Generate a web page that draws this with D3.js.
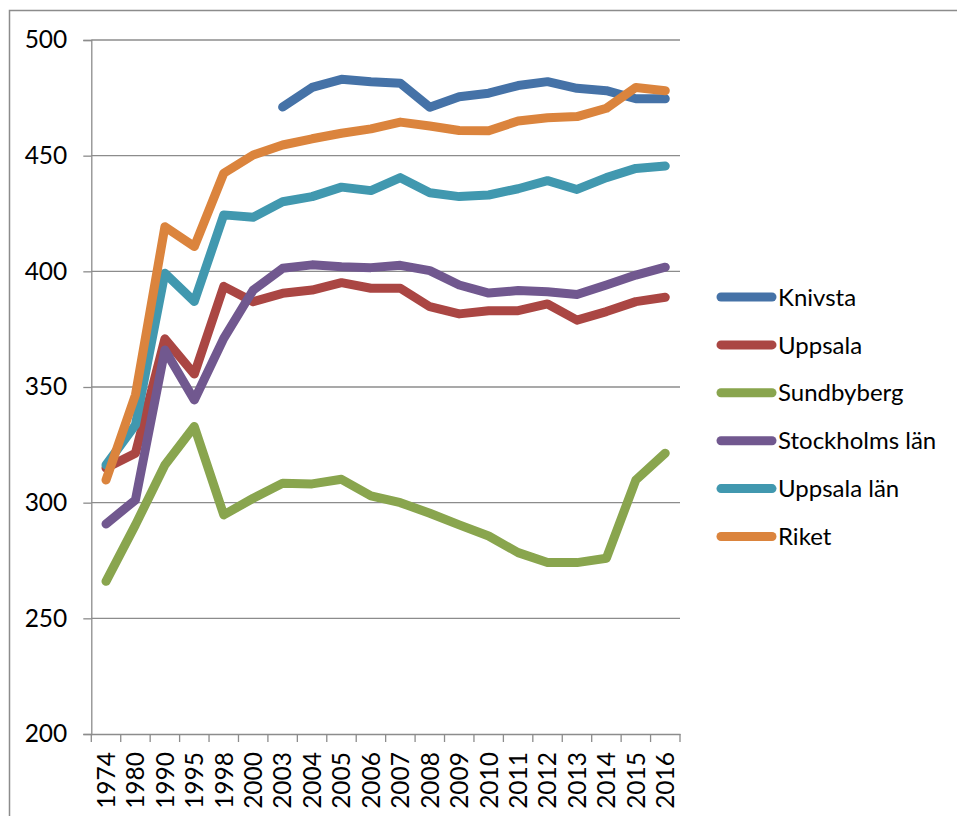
<!DOCTYPE html>
<html>
<head>
<meta charset="utf-8">
<script src="https://cdn.jsdelivr.net/npm/d3@7"></script>
<style>
  body { margin: 0; background: #fff; }
  svg { display: block; font-family: Lato, "Open Sans", sans-serif; }
</style>
</head>
<body>
<div id="chart"></div>
<script>
const years = ["1974","1980","1990","1995","1998","2000","2003","2004","2005","2006",
               "2007","2008","2009","2010","2011","2012","2013","2014","2015","2016"];

// null = no value for that year
const knivsta = [null,null,null,null,null,null,471,479.5,483,482,481.3,470.9,475.5,477,480.3,482,479.1,478.1,474.6,474.6];
const uppsala = [315,321.4,370.8,355.6,393.5,386.9,390.5,391.9,395.1,392.7,392.7,384.7,381.6,383,383,385.9,378.9,382.6,386.9,388.8];
const sundbyberg = [266,290.4,316.3,332.9,294.7,301.9,308.4,308.1,310.1,302.9,300,295.4,290.4,285.6,278.4,274.1,274.1,276,309.8,321.4];
const stockholmsLan = [290.8,301.2,366,344.4,371,391.9,401.3,402.8,402,401.6,402.6,400.3,394.1,390.6,391.7,391.2,390,394.1,398.4,401.8];
const uppsalaLan = [316.3,333.6,399.2,387,424.4,423.4,430.1,432.3,436.4,434.9,440.5,434,432.3,433,435.7,439.2,435.4,440.5,444.5,445.5];
const riket = [309.8,346.6,419.3,410.7,442.4,450.3,454.6,457.3,459.7,461.6,464.5,462.8,460.9,460.8,465,466.4,466.9,470.5,479.5,478.1];

const seriesNames = ["Knivsta","Uppsala","Sundbyberg","Stockholms län","Uppsala län","Riket"];
const seriesValues = [knivsta, uppsala, sundbyberg, stockholmsLan, uppsalaLan, riket];
const seriesColors = ["#4572A7","#AA4643","#89A54E","#71588F","#4198AF","#DB843D"];
const yTicks = [200, 250, 300, 350, 400, 450, 500];

const W = 957, H = 816;
const plot = { left: 91.3, right: 680, top: 40, bottom: 734 };

const svg = d3.select("#chart").append("svg")
  .attr("width", W).attr("height", H);

// outer chart frame (right and bottom edges fall outside the picture)
svg.append("path")
  .attr("d", `M9.5,${H + 5} V10.5 H${W + 5}`)
  .attr("fill", "none")
  .attr("stroke", "#8c8c8c")
  .attr("stroke-width", 1.5);

const x = d3.scaleBand().domain(years).range([plot.left, plot.right]);
const y = d3.scaleLinear().domain([200, 500]).range([plot.bottom, plot.top]);
const cx = d => x(d) + x.bandwidth() / 2;

// gridlines
svg.append("g")
  .selectAll("line")
  .data(yTicks.filter(t => t !== 200))
  .join("line")
  .attr("x1", plot.left).attr("x2", plot.right)
  .attr("y1", d => y(d)).attr("y2", d => y(d))
  .attr("stroke", "#8c8c8c")
  .attr("stroke-width", 1.3);

// y axis
const yAxis = svg.append("g")
  .attr("transform", `translate(${plot.left},0)`)
  .call(d3.axisLeft(y).tickValues(yTicks).tickSize(8).tickPadding(16).tickFormat(d3.format("d")));
yAxis.selectAll("line, path").attr("stroke", "#8c8c8c").attr("stroke-width", 1.3);
yAxis.selectAll("text").attr("fill", "#000").style("font-size", "24.5px").style("font-family", "Lato, sans-serif");

// x axis
const xAxis = svg.append("g")
  .attr("transform", `translate(0,${plot.bottom})`)
  .call(d3.axisBottom(x).tickSize(0).tickSizeOuter(0));
xAxis.select("path").attr("stroke", "#8c8c8c").attr("stroke-width", 1.3);
xAxis.selectAll("text")
  .attr("fill", "#000")
  .style("font-size", "24.5px")
  .style("font-family", "Lato, sans-serif")
  .attr("transform", "rotate(-90)")
  .attr("text-anchor", "end")
  .attr("x", -18)
  .attr("y", 0)
  .attr("dy", "0.36em");

// x tick marks sit on band boundaries
svg.append("g")
  .selectAll("line")
  .data(years.concat(["end"]))
  .join("line")
  .attr("x1", (d, i) => i < years.length ? x(d) : plot.right)
  .attr("x2", (d, i) => i < years.length ? x(d) : plot.right)
  .attr("y1", plot.bottom).attr("y2", plot.bottom + 8)
  .attr("stroke", "#8c8c8c")
  .attr("stroke-width", 1.3);

// series lines
const line = d3.line()
  .defined(d => d.v != null)
  .x(d => cx(d.year))
  .y(d => y(d.v));

seriesValues.forEach((vals, i) => {
  svg.append("path")
    .datum(years.map((yr, j) => ({ year: yr, v: vals[j] })))
    .attr("d", line)
    .attr("fill", "none")
    .attr("stroke", seriesColors[i])
    .attr("stroke-width", 9)
    .attr("stroke-linejoin", "round")
    .attr("stroke-linecap", "round");
});

// legend
const legend = svg.append("g").attr("transform", "translate(721,297)");
seriesNames.forEach((name, i) => {
  const g = legend.append("g").attr("transform", `translate(0,${i * 47.9})`);
  g.append("line")
    .attr("x1", 0).attr("x2", 51)
    .attr("stroke", seriesColors[i])
    .attr("stroke-width", 9)
    .attr("stroke-linecap", "round");
  g.append("text")
    .attr("x", 57)
    .attr("dy", "0.36em")
    .style("font-size", "24px")
    .attr("fill", "#000")
    .text(name);
});
</script>
</body>
</html>
